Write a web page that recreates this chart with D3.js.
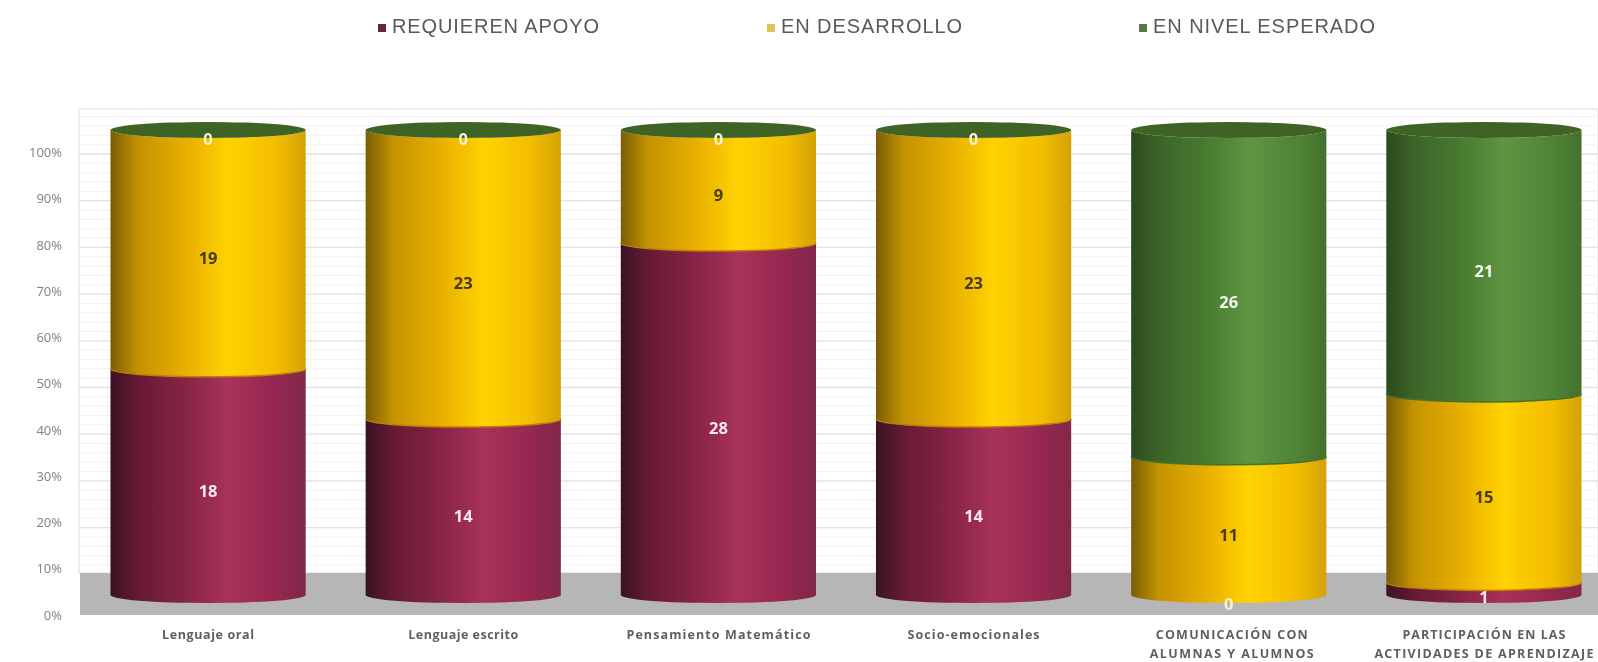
<!DOCTYPE html>
<html lang="es">
<head>
<meta charset="UTF-8" />
<title>Niveles de logro</title>
<script src="https://d3js.org/d3.v7.min.js"></script>
<style>
  html, body { margin: 0; padding: 0; background: #fff; overflow: hidden; }
  svg { display: block; filter: blur(0.7px); }
  .legend text { font-family: "Liberation Sans", sans-serif; font-size: 20px; fill: #595959; }
  .tick text { font-family: "Open Sans", sans-serif; font-size: 13px; fill: #808080; }
  .cat { font-family: "Open Sans", sans-serif; font-size: 12.5px; font-weight: 700; fill: #5f5f5f; text-anchor: middle; }
  .val { font-family: "Open Sans", sans-serif; font-size: 16.5px; font-weight: 700; text-anchor: middle; }
</style>
</head>
<body>
<svg width="1598" height="662"></svg>
<script>
const categories = ["Lenguaje oral", "Lenguaje escrito", "Pensamiento Matemático", "Socio-emocionales",
  "COMUNICACIÓN CON|ALUMNAS Y ALUMNOS", "PARTICIPACIÓN EN LAS|ACTIVIDADES DE APRENDIZAJE"];
const requieren = [18, 14, 28, 14, 0, 1];
const desarrollo = [19, 23, 9, 23, 11, 15];
const esperado = [0, 0, 0, 0, 26, 21];
const seriesNames = ["REQUIEREN APOYO", "EN DESARROLLO", "EN NIVEL ESPERADO"];
const seriesKeys = ["rojo", "amarillo", "verde"];
const axisTicks = [0, .1, .2, .3, .4, .5, .6, .7, .8, .9, 1];
const legendX = [378, 767, 1139];
const legendWidths = [207, 181, 222];
const legendColors = ["#5f2740", "#dcc55c", "#557a4a"];
const catWidths = [92, 110, 184, 132, 152, 163];

const svg = d3.select("svg");

// colores del cilindro, de izquierda a derecha
const ramps = {
  rojo: ["#3a1222", "#651a36", "#862443", "#a83259", "#952750", "#7f2848"],
  amarillo: ["#7a5d06", "#c39300", "#e8ae00", "#ffd200", "#f3bd00", "#d3a206"],
  verde: ["#2a4a1e", "#3d6428", "#487a30", "#5f9542", "#4f8436", "#44702c"]
};
const rampStops = [0, .14, .38, .6, .85, 1];
const edgeColors = { amarillo: "#c27a08", verde: "#46702c", rojo: "#6d1a38" };
const capColor = "#3f6324";
const labelColors = { rojo: "#fde8ef", amarillo: "#4a3a10", verde: "#f4f8ee" };

const defs = svg.append("defs");
seriesKeys.forEach(k => {
  const g = defs.append("linearGradient").attr("id", "grad-" + k);
  ramps[k].forEach((c, i) => g.append("stop").attr("offset", rampStops[i]).attr("stop-color", c));
});
defs.append("clipPath").attr("id", "wall")
  .append("rect").attr("x", 79).attr("y", 109).attr("width", 1519).attr("height", 464);

const x = d3.scaleBand().domain(categories).range([80.5, 1611.5]).paddingInner(0.235).paddingOuter(0.1175);
const yBar = d3.scaleLinear().domain([0, 1]).range([595, 130]);
const yGrid = d3.scaleLinear().domain([0, 1]).range([621, 154]);
const yTick = d3.scaleLinear().domain([0, 1]).range([615, 152.5]);
const ry = 8;

// pared del fondo
svg.append("rect").attr("x", 79).attr("y", 109).attr("width", 1519).attr("height", 464)
  .attr("fill", "#fff").attr("stroke", "#e9e9e9").attr("stroke-width", 1.5);

const grid = svg.append("g").attr("clip-path", "url(#wall)");
grid.selectAll("line.minor").data(d3.range(0, 56).map(i => i * 0.02))
  .join("line").attr("class", "minor")
  .attr("x1", 79).attr("x2", 1598)
  .attr("y1", d => yGrid(d)).attr("y2", d => yGrid(d))
  .attr("stroke", "#f2f2f2");
grid.selectAll("line.major").data(axisTicks)
  .join("line").attr("class", "major")
  .attr("x1", 79).attr("x2", 1598)
  .attr("y1", d => yGrid(d)).attr("y2", d => yGrid(d))
  .attr("stroke", "#e3e3e3").attr("stroke-width", 1.3);

// piso
svg.append("rect").attr("x", 80).attr("y", 573).attr("width", 1518).attr("height", 42).attr("fill", "#b6b6b6");

// eje
const axis = svg.append("g").attr("transform", "translate(62,0)")
  .call(d3.axisLeft(yTick).tickValues(axisTicks).tickSize(0).tickPadding(0).tickFormat(d3.format(".0%")));
axis.select(".domain").remove();

// cilindros
const seriesValues = [requieren, desarrollo, esperado];
categories.forEach((cat, i) => {
  const vals = seriesValues.map(s => s[i]);
  const total = d3.sum(vals);
  const left = x(cat), w = x.bandwidth(), rx = w / 2, cx = left + rx;
  let acc = 0;
  const g = svg.append("g");
  const labels = [];
  vals.forEach((v, j) => {
    const y0 = yBar(acc / total), y1 = yBar((acc + v) / total);
    const k = seriesKeys[j];
    if (v > 0) {
      g.append("path")
        .attr("d", `M${left},${y1}L${left},${y0}A${rx},${ry} 0 0 0 ${left + w},${y0}L${left + w},${y1}A${rx},${ry} 0 0 1 ${left},${y1}Z`)
        .attr("fill", `url(#grad-${k})`);
      if (acc > 0) {
        g.append("path")
          .attr("d", `M${left},${y0}A${rx},${ry} 0 0 0 ${left + w},${y0}`)
          .attr("fill", "none").attr("stroke", edgeColors[k]).attr("stroke-width", 1.5);
      }
    }
    labels.push({ v, k, y: (y0 + y1) / 2 + 9, zero: v === 0 });
    acc += v;
  });
  g.append("ellipse").attr("cx", cx).attr("cy", yBar(1)).attr("rx", rx).attr("ry", ry).attr("fill", capColor);
  labels.forEach(l => {
    g.append("text").attr("class", "val").attr("x", cx).attr("y", l.y).attr("dy", "0.35em")
      .attr("fill", l.zero ? "#f4f1d8" : labelColors[l.k]).text(l.v);
  });
  // etiqueta de categoria
  const lines = cat.split("|");
  lines.forEach((t, n) => {
    const tx = svg.append("text").attr("class", "cat").attr("x", cx + (i >= 4 ? 15 - i * 3 : 0))
      .attr("y", 635 + n * 18.5).attr("dy", "0.35em").text(t);
    // ajusta el ancho al de la referencia
    if (n === 0) tx.attr("textLength", catWidths[i]).attr("lengthAdjust", "spacing");
    else tx.attr("textLength", i === 5 ? 219 : 164).attr("lengthAdjust", "spacing");
  });
});

// leyenda
const legend = svg.append("g").attr("class", "legend");
seriesNames.forEach((name, i) => {
  legend.append("rect").attr("x", legendX[i]).attr("y", 24).attr("width", 8).attr("height", 8)
    .attr("fill", legendColors[i]);
  legend.append("text").attr("x", legendX[i] + 14).attr("y", 26).attr("dy", "0.35em")
    .attr("textLength", legendWidths[i]).attr("lengthAdjust", "spacing").text(name);
});
</script>
</body>
</html>
